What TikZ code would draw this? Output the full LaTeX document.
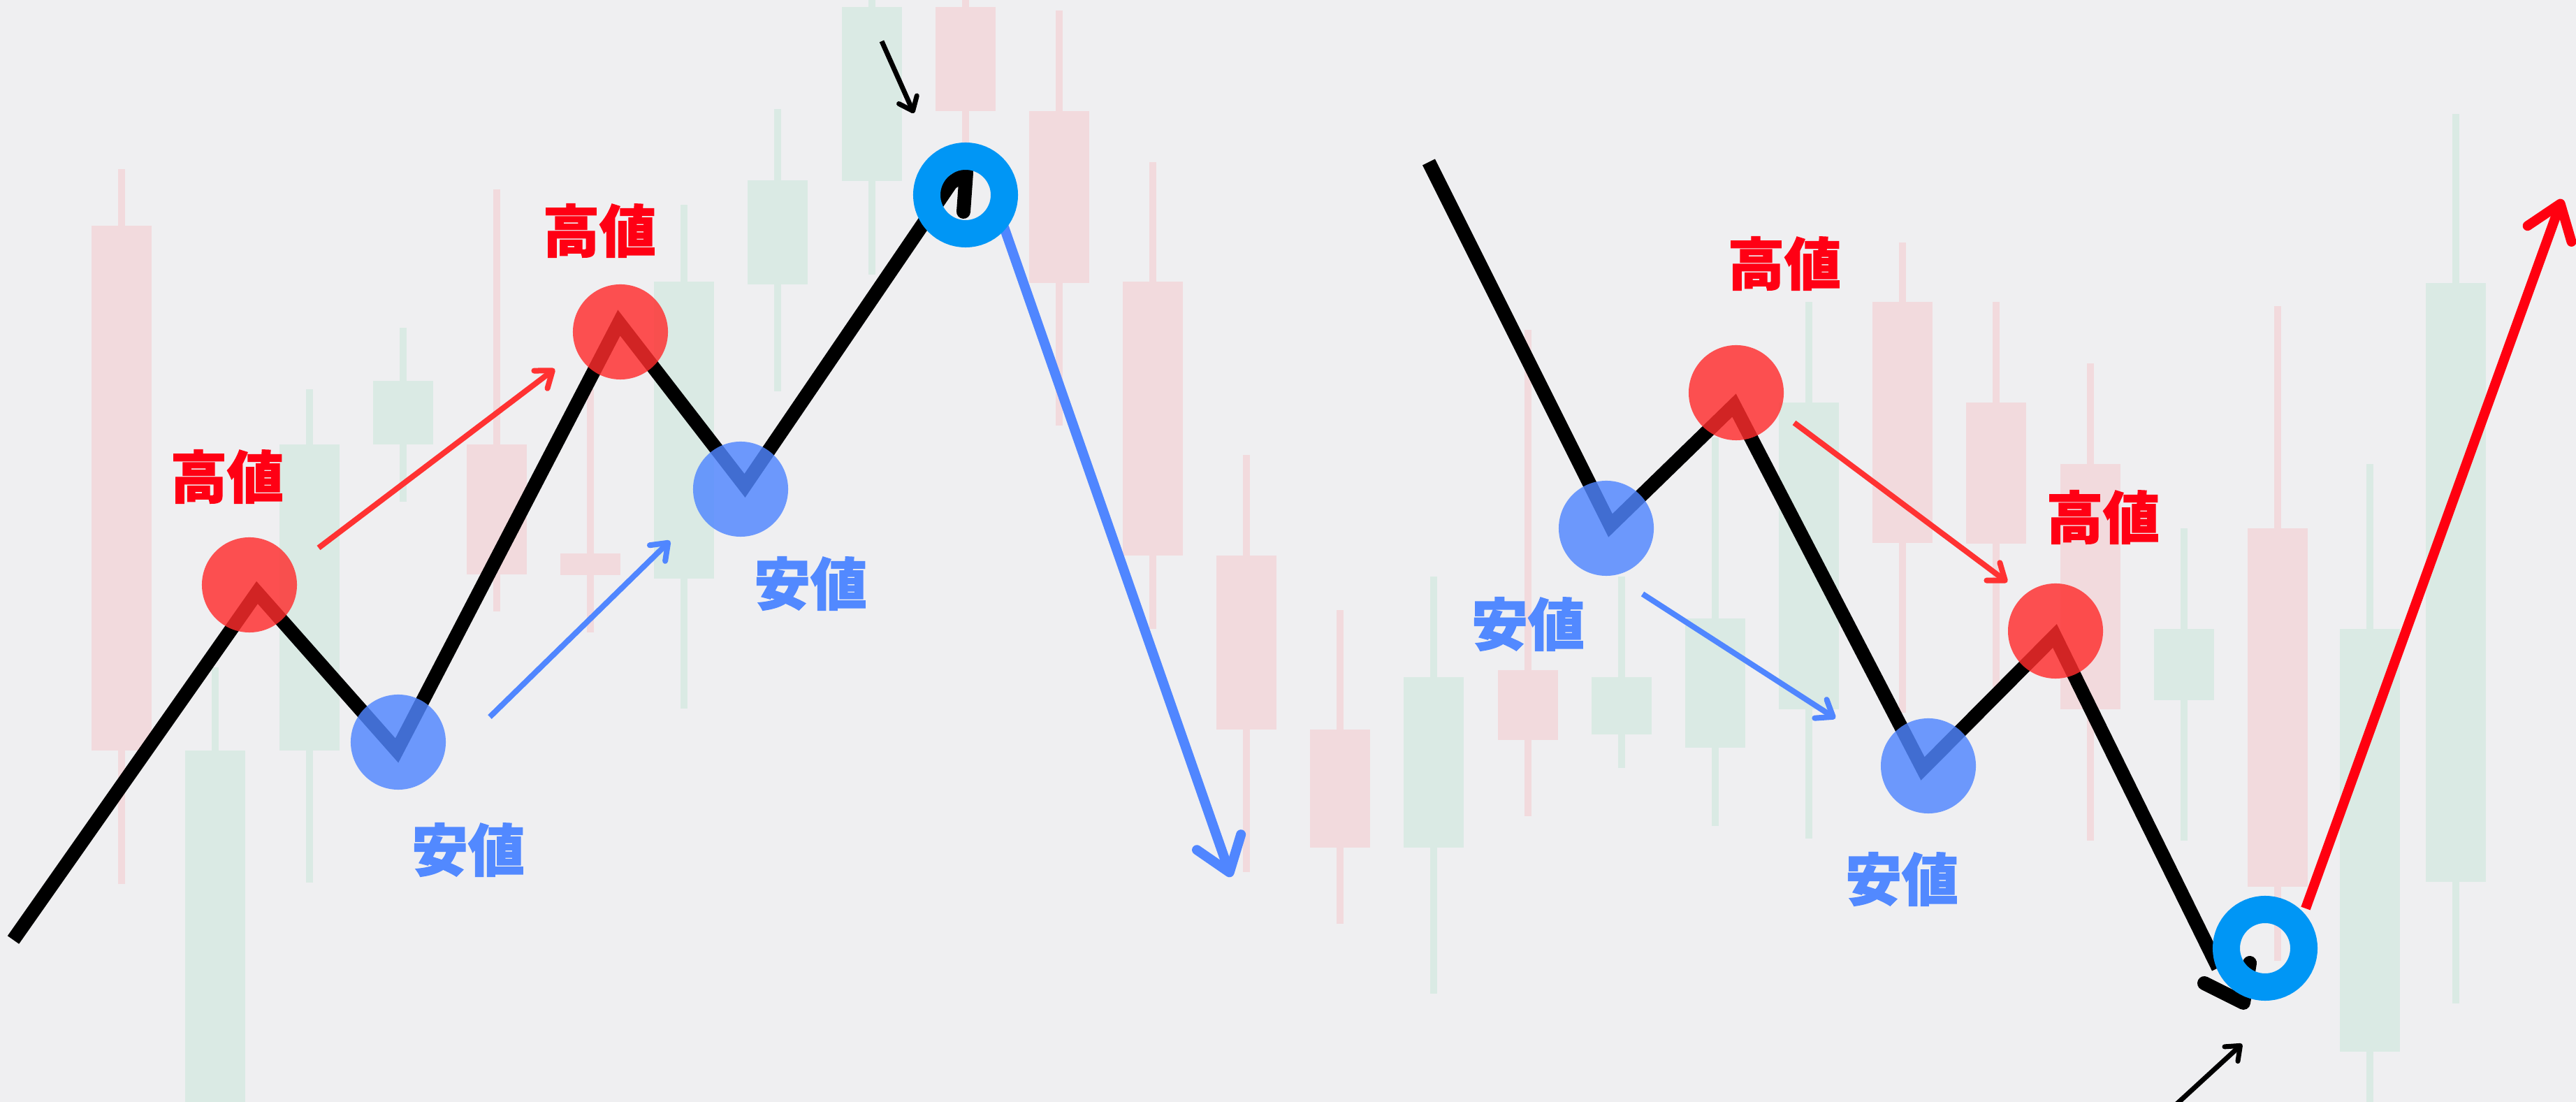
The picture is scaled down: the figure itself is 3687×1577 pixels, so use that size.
\documentclass[tikz,border=0pt]{standalone}
\usepackage{fontspec}
\newfontfamily\jpfont{Noto Sans CJK JP}[BoldFeatures={FakeBold=1.6}]
\usetikzlibrary{arrows.meta}
\definecolor{paper}{RGB}{239,239,241}
\definecolor{candleup}{RGB}{218,234,228}
\definecolor{candledown}{RGB}{242,218,221}
\definecolor{highred}{RGB}{255,45,45}
\definecolor{lowblue}{RGB}{80,134,255}
\definecolor{labelred}{RGB}{255,0,20}
\definecolor{labelblue}{RGB}{82,137,255}
\definecolor{ringblue}{RGB}{0,150,245}
\definecolor{arrowred}{RGB}{255,50,50}
\definecolor{trendred}{RGB}{255,0,16}

\begin{document}
\begin{tikzpicture}[x=0.01cm,y=-0.01cm,
        price/.style={line width=0.2cm,line join=miter},
        highdot/.style={circle,fill=highred,fill opacity=0.82,minimum size=1.36cm,inner sep=0pt},
        lowdot/.style={circle,fill=lowblue,fill opacity=0.82,minimum size=1.36cm,inner sep=0pt},
        pivotring/.style={circle,draw=ringblue,line width=0.39cm,minimum size=1.11cm,inner sep=0pt},
        highlabel/.style={text=labelred,font=\jpfont\bfseries\fontsize{23pt}{23pt}\selectfont},
        lowlabel/.style={text=labelblue,font=\jpfont\bfseries\fontsize{23pt}{23pt}\selectfont},
        move/.style={line width=0.08cm,-{Straight Barb[length=6pt,width=9pt,round]}},
        trend/.style={line width=0.14cm,-{Straight Barb[length=13pt,width=19pt,round]}},
        hint/.style={line width=0.07cm,-{Straight Barb[length=5pt,width=8pt,round]}}]
        \clip (0,0) rectangle (3687,1577);
        \fill[paper] (0,0) rectangle (3687,1577);
        \foreach \x/\bt/\bb/\wt/\wb/\c in {131/323/1074/242/1265/candledown, 265/1074/1577/955/1577/candleup,
                400/636/1074/557/1263/candleup, 534/545/636/469/718/candleup, 668/636/822/271/875/candledown,
                802/792/823/557/905/candledown, 936/403/828/293/1014/candleup, 1070/258/407/156/560/candleup,
                1205/10/259/0/393/candleup, 1339/10/159/0/207/candledown, 1473/159/405/15/609/candledown,
                1607/403/795/232/900/candledown, 1741/795/1044/651/1248/candledown, 1875/1044/1213/873/1322/candledown,
                2009/969/1213/825/1422/candleup, 2144/959/1059/472/1168/candledown, 2278/969/1051/825/1099/candleup,
                2412/885/1070/626/1182/candleup, 2546/576/1015/432/1200/candleup, 2680/432/777/347/1020/candledown,
                2814/576/778/432/983/candledown, 2949/664/1015/520/1203/candledown, 3083/900/1002/756/1203/candleup,
                3217/756/1269/438/1375/candledown, 3349/900/1505/664/1577/candleup, 3472/405/1262/163/1436/candleup}
            {
            \fill[\c] (\x+38,\wt) rectangle (\x+48,\wb);
            \fill[\c] (\x,\bt) rectangle (\x+86,\bb);
            }

        \coordinate (a0) at (19,1345);
        \coordinate (a1) at (368,848);
        \coordinate (a2) at (568,1074);
        \coordinate (a3) at (886,462);
        \coordinate (a4) at (1066,695);
        \coordinate (a5) at (1361,262);
        \coordinate (a6) at (1383,247);
        \coordinate (a7) at (1379,303);
        \coordinate (b0) at (2045,232);
        \coordinate (b1) at (2305,752);
        \coordinate (b2) at (2482,580);
        \coordinate (b3) at (2752,1100);
        \coordinate (b4) at (2941,910);
        \coordinate (b5) at (3175,1385);
        \coordinate (b6) at (3155,1407);
        \coordinate (b7) at (3211,1435);
        \coordinate (b8) at (3220,1378);

        \coordinate (r1s) at (456,784);   \coordinate (r1e) at (794,528);
        \coordinate (u1s) at (701,1026);  \coordinate (u1e) at (959,774);
        \coordinate (r2s) at (2568,605);  \coordinate (r2e) at (2873,833);
        \coordinate (u2s) at (2351,850);  \coordinate (u2e) at (2627,1028);
        \coordinate (dn0) at (1430,305);  \coordinate (dn) at (1762,1255);
        \coordinate (up0) at (3300,1300); \coordinate (up) at (3667,285);
        \coordinate (h1s) at (1262,59);   \coordinate (h1e) at (1308,162);
        \coordinate (h2s) at (3100,1594); \coordinate (h2e) at (3209,1494);

        \draw[move,arrowred] (r1s) -- (r1e);
        \draw[move,lowblue] (u1s) -- (u1e);
        \draw[move,arrowred] (r2s) -- (r2e);
        \draw[move,lowblue] (u2s) -- (u2e);

        \draw[price] (a0) -- (a1) -- (a2) -- (a3) -- (a4) -- (a5);
        \draw[price,line cap=round,line join=round] (a5) -- (a6) -- (a7);
        \draw[price] (b0) -- (b1) -- (b2) -- (b3) -- (b4) -- (b5);
        \draw[price,line cap=round,line join=round] (b6) -- (b7) -- (b8);

        \node[highdot] (hi1) at (357,837) {};
        \node[lowdot] (lo1) at (570,1062) {};
        \node[highdot] (hi2) at (888,475) {};
        \node[lowdot] (lo2) at (1060,700) {};
        \node[lowdot] (lo3) at (2299,756) {};
        \node[highdot] (hi3) at (2485,562) {};
        \node[lowdot] (lo4) at (2760,1096) {};
        \node[highdot] (hi4) at (2942,903) {};

        \draw[trend,lowblue] (dn0) -- (dn);
        \draw[trend,trendred] (up0) -- (up);
        \node[pivotring] (turn1) at (1382,279) {};
        \node[pivotring] (turn2) at (3242,1357) {};

        \draw[hint] (h1s) -- (h1e);
        \draw[hint] (h2s) -- (h2e);

        \node[highlabel] (hl1) at (325,682) {高値};
        \node[highlabel] (hl2) at (858,330) {高値};
        \node[highlabel] (hl3) at (2554,377) {高値};
        \node[highlabel] (hl4) at (3010,740) {高値};
        \node[lowlabel] (ll1) at (670,1216) {安値};
        \node[lowlabel] (ll2) at (1160,835) {安値};
        \node[lowlabel] (ll3) at (2187,893) {安値};
        \node[lowlabel] (ll4) at (2722,1258) {安値};
\end{tikzpicture}
\end{document}
